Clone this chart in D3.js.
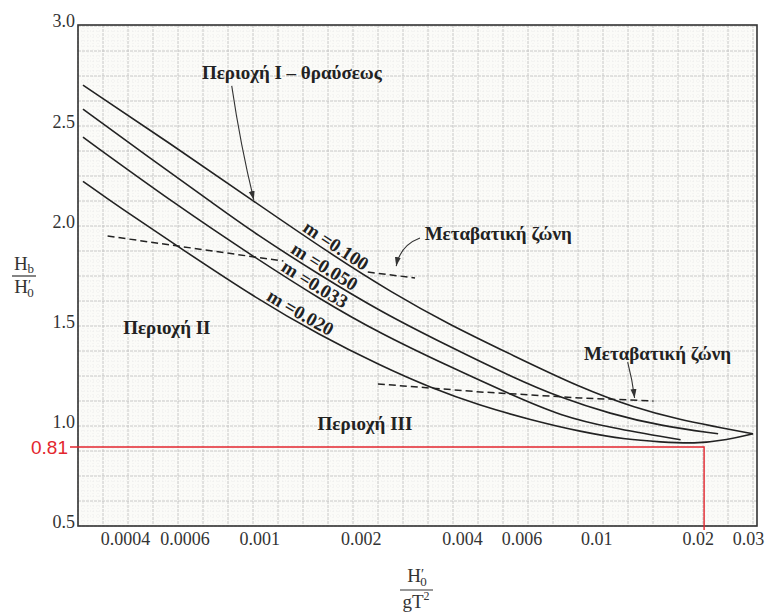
<!DOCTYPE html>
<html>
<head>
<meta charset="utf-8">
<script src="https://cdn.jsdelivr.net/npm/d3@7"></script>
<style>
  body { margin: 0; background: #fff; }
  svg { display: block; font-family: "Liberation Serif", "DejaVu Serif", serif; }
</style>
</head>
<body>
<script>
// breaking wave height index  Hb/H0'  vs  H0'/gT^2  (log x)

var W = 765, H = 615;
var plotL = 78, plotR = 757, plotT = 25, plotB = 526;

// axis ticks
var xTicks = [0.0004, 0.0006, 0.001, 0.002, 0.004, 0.006, 0.01, 0.02, 0.03];
var xTickLabels = ["0.0004", "0.0006", "0.001", "0.002", "0.004", "0.006", "0.01", "0.02", "0.03"];
var yTicks = [0.5, 1.0, 1.5, 2.0, 2.5, 3.0];

// curves, one per beach slope m
var slopes = ["0.100", "0.050", "0.033", "0.020"];

var m100X = [0.0003, 0.000543, 0.000964, 0.00162, 0.0025, 0.00362, 0.00568, 0.00899, 0.0130, 0.0178, 0.0219, 0.0292];
var m100Y = [2.70, 2.41, 2.12, 1.86, 1.66, 1.51, 1.35, 1.19, 1.09, 1.03, 1.00, 0.96];

var m050X = [0.0003, 0.00047, 0.00073, 0.00097, 0.00152, 0.00229, 0.00362, 0.00568, 0.00784, 0.0110, 0.0155, 0.0230];
var m050Y = [2.58, 2.34, 2.11, 1.96, 1.75, 1.57, 1.40, 1.24, 1.14, 1.06, 1.00, 0.96];

var m033X = [0.0003, 0.00057, 0.00097, 0.00152, 0.00229, 0.00362, 0.00568, 0.00784, 0.0110, 0.0178];
var m033Y = [2.44, 2.10, 1.84, 1.63, 1.46, 1.30, 1.15, 1.05, 0.99, 0.93];

var m020X = [0.0003, 0.000385, 0.00058, 0.00097, 0.00152, 0.00229, 0.00322, 0.00453, 0.00638, 0.00899, 0.0124, 0.0155, 0.0195, 0.0246, 0.0292];
var m020Y = [2.22, 2.09, 1.89, 1.64, 1.45, 1.30, 1.19, 1.10, 1.03, 0.97, 0.93, 0.92, 0.91, 0.93, 0.96];

// where each slope label starts along its curve
var slopeLabelX = [0.00132, 0.00122, 0.00114, 0.00103];

// transition zones (dashed)
var zone1aX = [0.000355, 0.00118], zone1aY = [1.947, 1.822];
var zone1bX = [0.0021, 0.0029],    zone1bY = [1.767, 1.738];
var zone2X = [0.00225, 0.00453, 0.00899, 0.0148];
var zone2Y = [1.209, 1.169, 1.139, 1.124];

// region texts
var regionText = ["Περιοχή I – θραύσεως", "Περιοχή II", "Περιοχή III", "Μεταβατική ζώνη", "Μεταβατική ζώνη"];
var regionX = [0.00125, 0.000532, 0.00206, 0.00512, 0.0152];
var regionY = [2.765, 1.493, 1.014, 1.962, 1.363];

// arrows: start, control, end
var arrowX = [[0.000829, 0.00088, 0.000964], [0.00300, 0.00262, 0.00255], [0.0124, 0.0128, 0.0130]];
var arrowY = [[2.696, 2.40, 2.127], [1.937, 1.90, 1.797], [1.318, 1.23, 1.139]];

// red read-off
var refX = 0.0209, refY = 0.894, refLabel = "0.81";

var x = d3.scaleLog().domain([0.00029, 0.03]).range([plotL, plotR]);
var y = d3.scaleLinear().domain([0.5, 3.0]).range([plotB, plotT]);

var svg = d3.select("body").append("svg")
  .attr("width", W)
  .attr("height", H);

svg.append("defs").append("marker")
  .attr("id", "arr")
  .attr("markerUnits", "userSpaceOnUse")
  .attr("markerWidth", 10).attr("markerHeight", 8)
  .attr("refX", 9).attr("refY", 4)
  .attr("orient", "auto")
  .append("path")
  .attr("d", "M0,1 L9,4 L0,7 Z")
  .attr("fill", "#333");

svg.append("rect")
  .attr("x", plotL).attr("y", plotT)
  .attr("width", plotR - plotL).attr("height", plotB - plotT)
  .attr("fill", "#fbfbf8");

// graph paper
var grid = svg.append("g");
d3.range(plotL, plotR, 5).forEach(function(px, i) {
  grid.append("line")
    .attr("x1", px).attr("x2", px).attr("y1", plotT).attr("y2", plotB)
    .attr("stroke", i % 5 == 0 ? "#c2c2c2" : "#e4e4e4")
    .attr("stroke-width", i % 5 == 0 ? 0.9 : 0.6)
    .attr("stroke-dasharray", i % 5 == 0 ? "3,1" : "1,2");
});
d3.range(plotB, plotT, -5).forEach(function(py, i) {
  grid.append("line")
    .attr("x1", plotL).attr("x2", plotR).attr("y1", py).attr("y2", py)
    .attr("stroke", i % 5 == 0 ? "#c2c2c2" : "#e4e4e4")
    .attr("stroke-width", i % 5 == 0 ? 0.9 : 0.6)
    .attr("stroke-dasharray", i % 5 == 0 ? "3,1" : "1,2");
});

// frame
svg.append("rect")
  .attr("x", plotL).attr("y", plotT)
  .attr("width", plotR - plotL).attr("height", plotB - plotT)
  .attr("fill", "none")
  .attr("stroke", "#333")
  .attr("stroke-width", 1.6);

// axes
var yAxis = svg.append("g")
  .attr("transform", "translate(" + plotL + ",0)")
  .call(d3.axisLeft(y).tickValues(yTicks).tickFormat(d3.format(".1f")).tickSize(0).tickPadding(3));
yAxis.select(".domain").remove();
yAxis.attr("font-family", null).attr("font-size", 18);
yAxis.selectAll("text").attr("fill", "#333").attr("dy", "0.1em");

var xAxis = svg.append("g")
  .attr("transform", "translate(0," + plotB + ")")
  .call(d3.axisBottom(x).tickValues(xTicks).tickFormat(function(d, i) { return xTickLabels[i]; }).tickSize(0).tickPadding(6));
xAxis.select(".domain").remove();
xAxis.attr("font-family", null).attr("font-size", 18);
xAxis.selectAll("text").attr("fill", "#333")
  .attr("dx", function(d) { return d == 0.03 ? -9 : 0; });

// red read-off lines
svg.append("path")
  .attr("d", d3.line()([[plotL - 8, y(refY)], [x(refX), y(refY)], [x(refX), plotB + 4]]))
  .attr("fill", "none")
  .attr("stroke", "#e3262e")
  .attr("stroke-width", 1.4);
svg.append("text")
  .attr("x", plotL - 10).attr("y", y(refY))
  .attr("dy", "0.36em")
  .attr("text-anchor", "end")
  .attr("font-family", "Liberation Sans, Arial, sans-serif")
  .attr("font-size", 19)
  .attr("fill", "#e3262e")
  .text(refLabel);

// curves
var curves = [
  d3.zip(m100X, m100Y),
  d3.zip(m050X, m050Y),
  d3.zip(m033X, m033Y),
  d3.zip(m020X, m020Y)
];

var line = d3.line()
  .x(function(d) { return x(d[0]); })
  .y(function(d) { return y(d[1]); })
  .curve(d3.curveBasis);

var curvePaths = svg.append("g").selectAll("path")
  .data(curves)
  .enter().append("path")
  .attr("id", function(d, i) { return "c" + i; })
  .attr("d", line)
  .attr("fill", "none")
  .attr("stroke", "#222")
  .attr("stroke-width", 1.6);

// dashed transition zones
var zones = [d3.zip(zone1aX, zone1aY), d3.zip(zone1bX, zone1bY), d3.zip(zone2X, zone2Y)];
svg.append("g").selectAll("path")
  .data(zones)
  .enter().append("path")
  .attr("d", line.curve(d3.curveLinear))
  .attr("fill", "none")
  .attr("stroke", "#222")
  .attr("stroke-width", 1.5)
  .attr("stroke-dasharray", "7,4");

// arrows
svg.append("g").selectAll("path")
  .data(d3.range(arrowX.length))
  .enter().append("path")
  .attr("d", function(i) {
    var p = d3.path();
    p.moveTo(x(arrowX[i][0]), y(arrowY[i][0]));
    p.quadraticCurveTo(x(arrowX[i][1]), y(arrowY[i][1]), x(arrowX[i][2]), y(arrowY[i][2]));
    return p.toString();
  })
  .attr("fill", "none")
  .attr("stroke", "#333")
  .attr("stroke-width", 1.1)
  .attr("marker-end", "url(#arr)");

// slope labels riding on their curves
function lengthAtX(node, px) {
  var lo = 0, hi = node.getTotalLength();
  for (var k = 0; k < 30; k++) {
    var mid = (lo + hi) / 2;
    if (node.getPointAtLength(mid).x < px) lo = mid; else hi = mid;
  }
  return lo;
}

svg.append("g").selectAll("text")
  .data(slopes)
  .enter().append("text")
  .attr("font-size", 19)
  .attr("font-weight", "bold")
  .attr("fill", "#222")
  .attr("dy", -3)
  .append("textPath")
  .attr("href", function(d, i) { return "#c" + i; })
  .attr("startOffset", function(d, i) { return lengthAtX(curvePaths.nodes()[i], x(slopeLabelX[i])); })
  .text(function(d) { return "m =" + d; });

// region labels
svg.append("g").selectAll("text")
  .data(regionText)
  .enter().append("text")
  .attr("x", function(d, i) { return x(regionX[i]); })
  .attr("y", function(d, i) { return y(regionY[i]); })
  .attr("dy", "0.35em")
  .attr("text-anchor", "middle")
  .attr("font-size", 19)
  .attr("font-weight", "bold")
  .attr("fill", "#222")
  .text(function(d) { return d; });

// y axis title  Hb / H0'
var yt = svg.append("g").attr("font-size", 19).attr("fill", "#333").attr("text-anchor", "middle");
var t1 = yt.append("text").attr("x", 24).attr("y", 270);
t1.append("tspan").text("H");
t1.append("tspan").attr("font-size", 13).attr("dy", 3).text("b");
yt.append("line").attr("x1", 12).attr("x2", 36).attr("y1", 276).attr("y2", 276)
  .attr("stroke", "#333").attr("stroke-width", 1.2);
var t2 = yt.append("text").attr("x", 24).attr("y", 293);
t2.append("tspan").text("H");
t2.append("tspan").attr("font-size", 14).attr("dy", -3).text("′");
t2.append("tspan").attr("font-size", 13).attr("dx", -4).attr("dy", 7).text("0");

// x axis title  H0' / gT^2
var xt = svg.append("g").attr("font-size", 19).attr("fill", "#333").attr("text-anchor", "middle");
var t3 = xt.append("text").attr("x", 417).attr("y", 582);
t3.append("tspan").text("H");
t3.append("tspan").attr("font-size", 14).attr("dy", -3).text("′");
t3.append("tspan").attr("font-size", 13).attr("dx", -4).attr("dy", 7).text("0");
xt.append("line").attr("x1", 400).attr("x2", 433).attr("y1", 590).attr("y2", 590)
  .attr("stroke", "#333").attr("stroke-width", 1.2);
var t4 = xt.append("text").attr("x", 416).attr("y", 608);
t4.append("tspan").text("gT");
t4.append("tspan").attr("font-size", 12).attr("dy", -8).text("2");
</script>
</body>
</html>
